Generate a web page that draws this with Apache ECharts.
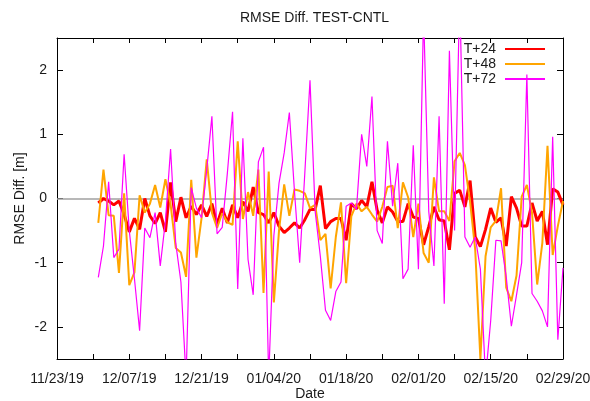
<!DOCTYPE html>
<html>
<head>
<meta charset="utf-8">
<script src="https://cdn.jsdelivr.net/npm/echarts@6/dist/echarts.min.js"></script>
<style>
  html, body { margin: 0; padding: 0; background: #fff; }
  #chart { width: 590px; height: 401px; }
</style>
</head>
<body>
<div id="chart"></div>
<script>
// Day offsets are counted from 11/23/19; daily values run 12/01/19 .. 02/29/20.
const firstDay = 8;
const tickLabels = ['11/23/19', '12/07/19', '12/21/19', '01/04/20', '01/18/20', '02/01/20', '02/15/20', '02/29/20'];
const seriesNames = ['T+24', 'T+48', 'T+72'];

const t24 = [
  -0.07, 0.00, -0.04, -0.10, -0.04, -0.25, -0.52, -0.31, -0.48, 0.00,
  -0.27, -0.39, -0.22, -0.52, 0.25, -0.36, 0.02, -0.30, -0.12, -0.25,
  -0.10, -0.28, -0.08, -0.40, -0.15, -0.38, -0.10, -0.30, -0.05, -0.20,
  0.18, -0.22, -0.25, -0.38, -0.22, -0.43, -0.53, -0.46, -0.38, -0.46,
  -0.33, -0.17, -0.17, 0.20, -0.47, -0.36, -0.31, -0.31, -0.65, -0.08,
  -0.16, -0.03, -0.13, 0.26, -0.18, -0.38, -0.13, -0.21, -0.36, -0.36,
  -0.08, -0.29, -0.31, -0.72, -0.44, -0.13, -0.33, -0.35, -0.80, 0.08,
  0.13, -0.13, 0.28, -0.60, -0.75, -0.48, -0.15, -0.37, -0.30, -0.74,
  0.03, -0.15, -0.43, -0.43, -0.07, -0.35, -0.20, -0.72, 0.15, 0.10,
  -0.10
];

const t48 = [
  -0.38, 0.45, -0.26, -0.27, -1.16, 0.08, -1.35, -1.15, 0.05, -0.22,
  -0.08, 0.21, -0.14, 0.30, -0.09, -0.77, -0.84, -1.22, 0.29, -0.92,
  -0.30, 0.61, -0.22, -0.46, -0.23, -0.37, -0.41, 0.89, -0.32, 0.10,
  -0.27, 0.45, -1.47, 0.42, -1.62, -0.50, 0.22, -0.27, 0.14, 0.12,
  0.08, -0.15, -0.10, -0.65, -0.55, -1.40, -0.60, -0.06, -1.32, -0.28,
  -0.08, -0.20, -0.13, -0.25, -0.36, -0.13, 0.18, 0.20, -0.46, 0.25,
  0.02, -0.60, -0.08, -0.85, -1.00, 0.33, -0.20, -0.20, -0.35, 0.58,
  0.71, 0.52, -0.05, -0.80, -2.50, -0.90, -0.45, -0.35, 0.16, -1.39,
  -1.60, -1.20, 0.03, 0.21, -0.22, -1.34, -0.69, 0.82, -0.88, -0.43,
  -0.04
];

const t72 = [
  -1.23, -0.74, 0.26, -0.92, -0.79, 0.69, -0.50, -1.25, -2.06, -0.46,
  -0.61, -0.22, -1.05, -0.35, 0.77, -0.70, -1.30, -2.80, 0.17, -0.15,
  -0.30, 0.45, 1.28, -0.55, -0.45, 0.40, 1.35, -1.41, 0.94, -0.95,
  -1.50, 0.57, 0.80, -2.80, -0.58, 0.24, 0.71, 1.34, 0.10, -1.00,
  0.40, 1.84, -0.20, -0.90, -1.74, -1.90, -1.45, -1.30, -0.12, -0.07,
  -0.17, 1.00, 0.50, 1.59, -0.50, -0.70, 0.89, -0.12, 0.55, -1.25,
  -1.10, 0.83, -1.10, 2.90, -0.20, -1.05, 1.28, -1.64, 2.30, -0.50,
  3.20, -0.60, -0.76, -0.60, -1.10, -2.80, -1.90, -0.65, -0.66, -1.22,
  -1.99, -1.50, -1.00, 1.93, -1.48, -1.60, -1.75, -2.00, 0.96, -2.20,
  -1.08
];

const yTicks = [-2, -1, 0, 1, 2];
const colors = ['#ff0000', '#ffa500', '#ff00ff'];
const widths = [3, 2, 1.2];

const xMajor = tickLabels.map((_, i) => i * 14);
const xMinor = [];
for (let d = 0; d <= 98; d += 7) xMinor.push(d);

const FONT = 'Liberation Sans, Arial, sans-serif';
const TXT = '#1a1a1a';
const FS = 14;

function pairs(vals) {
  return vals.map((v, i) => [firstDay + i, v]);
}

const chart = echarts.init(document.getElementById('chart'), null, { renderer: 'canvas' });

const frameLine = { show: true, onZero: false, lineStyle: { color: '#000', width: 1 } };

chart.setOption({
  animation: false,
  backgroundColor: '#fff',
  textStyle: { fontFamily: FONT },
  title: {
    text: 'RMSE Diff. TEST-CNTL',
    left: 235,
    top: 6,
    textStyle: { fontFamily: FONT, fontSize: FS, fontWeight: 'normal', color: TXT }
  },
  legend: {
    data: seriesNames,
    orient: 'vertical',
    right: 39,
    top: 37,
    align: 'right',
    itemWidth: 40,
    itemHeight: 12,
    itemGap: 1,
    itemStyle: { opacity: 0 },
    textStyle: { fontFamily: FONT, fontSize: FS, color: TXT, padding: [0, 4, 0, 0] }
  },
  grid: { left: 57, right: 27, top: 38, bottom: 42, containLabel: false, outerBoundsMode: 'none' },
  xAxis: [
    {
      type: 'value', min: 0, max: 98,
      name: 'Date', nameLocation: 'middle', nameGap: 28, nameMoveOverlap: false,
      nameTextStyle: { fontFamily: FONT, fontSize: FS, color: TXT },
      axisLine: frameLine,
      axisTick: { show: true, inside: true, length: 5, customValues: xMinor, lineStyle: { color: '#000' } },
      axisLabel: {
        show: true, margin: 13, fontSize: FS, color: TXT, fontFamily: FONT,
        customValues: xMajor,
        formatter: (v) => tickLabels[Math.round(v / 14)]
      },
      splitLine: { show: false }
    },
    {
      type: 'value', min: 0, max: 98, position: 'top',
      axisLine: frameLine,
      axisTick: { show: true, inside: true, length: 5, customValues: xMinor, lineStyle: { color: '#000' } },
      axisLabel: { show: false },
      splitLine: { show: false }
    }
  ],
  yAxis: [
    {
      type: 'value', min: -2.5, max: 2.5,
      name: 'RMSE Diff. [m]', nameLocation: 'middle', nameRotate: 90, nameGap: 30, nameMoveOverlap: false,
      nameTextStyle: { fontFamily: FONT, fontSize: FS, color: TXT },
      axisLine: frameLine,
      axisTick: { show: true, inside: true, length: 6, customValues: yTicks, lineStyle: { color: '#000' } },
      axisLabel: { show: true, margin: 10, fontSize: FS, color: TXT, fontFamily: FONT, customValues: yTicks },
      splitLine: { show: false }
    },
    {
      type: 'value', min: -2.5, max: 2.5, position: 'right',
      axisLine: frameLine,
      axisTick: { show: true, inside: true, length: 6, customValues: yTicks, lineStyle: { color: '#000' } },
      axisLabel: { show: false },
      splitLine: { show: false }
    }
  ],
  series: [t24, t48, t72].map((vals, k) => {
    const s = {
      name: seriesNames[k],
      type: 'line',
      xAxisIndex: 0,
      yAxisIndex: 0,
      data: pairs(vals),
      symbol: 'none',
      showSymbol: false,
      clip: true,
      z: 3 + k,
      itemStyle: { color: colors[k] },
      lineStyle: { color: colors[k], width: widths[k] }
    };
    if (k === 0) {
      s.markLine = {
        silent: true,
        symbol: ['none', 'none'],
        label: { show: false },
        lineStyle: { color: '#a0a0a0', width: 1.5, type: 'solid' },
        z: 1,
        data: [{ yAxis: 0 }]
      };
    }
    return s;
  })
});
</script>
</body>
</html>
